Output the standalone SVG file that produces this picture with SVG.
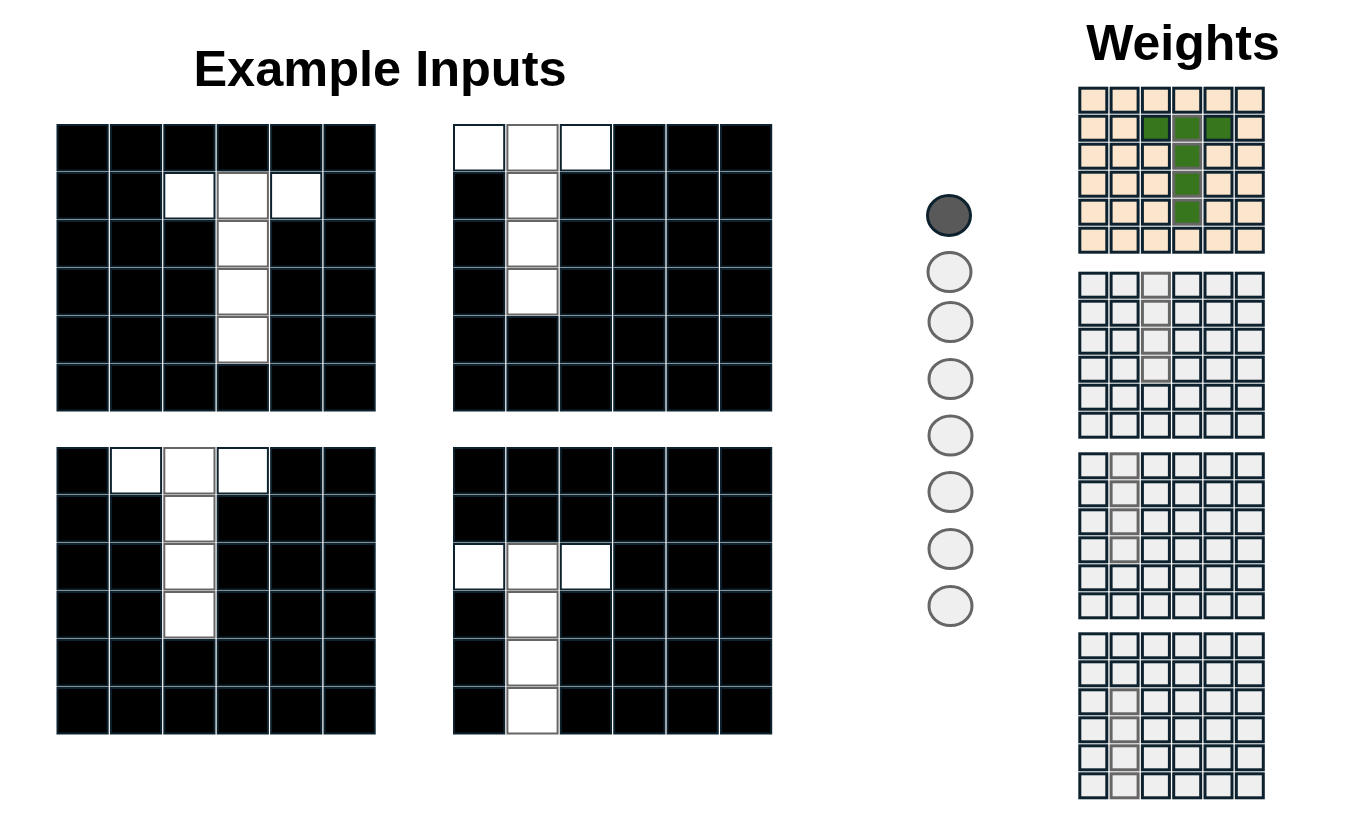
<svg xmlns="http://www.w3.org/2000/svg" width="1348" height="817" viewBox="0 0 1348 817">
<style>
.t{font-family:"Liberation Sans",Arial,sans-serif;font-weight:bold;fill:#000}
.i rect{stroke-width:2}
.b{fill:#000;stroke:#0d222e}
.w{fill:#fff;stroke:#0d222e}
.wg{fill:#fff;stroke:#666}
.k rect{stroke-width:3}
.p{fill:#fce5cd;stroke:#0d222e}
.g{fill:#38761d;stroke:#0d222e}
.gg{fill:#38761d;stroke:#666}
.l{fill:#efefef;stroke:#0d222e}
.lg{fill:#efefef;stroke:#666}
.c{fill:#efefef;stroke:#666;stroke-width:3}
.cd{fill:#595959;stroke:#0d222e;stroke-width:3}
</style>
<text class="t" x="380" y="86" font-size="50.5" text-anchor="middle">Example Inputs</text>
<text class="t" x="1183" y="60" font-size="50" text-anchor="middle">Weights</text>

<g id="input-1" class="i" transform="translate(56.5,124)">
<rect class="b" x="1" y="1" width="50.2" height="45.5"/><rect class="b" x="54.4" y="1" width="50.2" height="45.5"/><rect class="b" x="107.8" y="1" width="50.2" height="45.5"/><rect class="b" x="161.2" y="1" width="50.2" height="45.5"/><rect class="b" x="214.6" y="1" width="50.2" height="45.5"/><rect class="b" x="268" y="1" width="50.2" height="45.5"/>
<rect class="b" x="1" y="49" width="50.2" height="45.5"/><rect class="b" x="54.4" y="49" width="50.2" height="45.5"/><rect class="w" x="107.8" y="49" width="50.2" height="45.5"/><rect class="w" x="214.6" y="49" width="50.2" height="45.5"/><rect class="b" x="268" y="49" width="50.2" height="45.5"/>
<rect class="b" x="1" y="97" width="50.2" height="45.5"/><rect class="b" x="54.4" y="97" width="50.2" height="45.5"/><rect class="b" x="107.8" y="97" width="50.2" height="45.5"/><rect class="b" x="214.6" y="97" width="50.2" height="45.5"/><rect class="b" x="268" y="97" width="50.2" height="45.5"/>
<rect class="b" x="1" y="145" width="50.2" height="45.5"/><rect class="b" x="54.4" y="145" width="50.2" height="45.5"/><rect class="b" x="107.8" y="145" width="50.2" height="45.5"/><rect class="b" x="214.6" y="145" width="50.2" height="45.5"/><rect class="b" x="268" y="145" width="50.2" height="45.5"/>
<rect class="b" x="1" y="193" width="50.2" height="45.5"/><rect class="b" x="54.4" y="193" width="50.2" height="45.5"/><rect class="b" x="107.8" y="193" width="50.2" height="45.5"/><rect class="b" x="214.6" y="193" width="50.2" height="45.5"/><rect class="b" x="268" y="193" width="50.2" height="45.5"/>
<rect class="b" x="1" y="241" width="50.2" height="45.5"/><rect class="b" x="54.4" y="241" width="50.2" height="45.5"/><rect class="b" x="107.8" y="241" width="50.2" height="45.5"/><rect class="b" x="161.2" y="241" width="50.2" height="45.5"/><rect class="b" x="214.6" y="241" width="50.2" height="45.5"/><rect class="b" x="268" y="241" width="50.2" height="45.5"/>
<rect class="wg" x="161.2" y="49" width="50.2" height="45.5"/><rect class="wg" x="161.2" y="97" width="50.2" height="45.5"/><rect class="wg" x="161.2" y="145" width="50.2" height="45.5"/><rect class="wg" x="161.2" y="193" width="50.2" height="45.5"/>
</g>

<g id="input-2" class="i" transform="translate(453,124)">
<rect class="w" x="1" y="1" width="50.2" height="45.5"/><rect class="w" x="107.8" y="1" width="50.2" height="45.5"/><rect class="b" x="161.2" y="1" width="50.2" height="45.5"/><rect class="b" x="214.6" y="1" width="50.2" height="45.5"/><rect class="b" x="268" y="1" width="50.2" height="45.5"/>
<rect class="b" x="1" y="49" width="50.2" height="45.5"/><rect class="b" x="107.8" y="49" width="50.2" height="45.5"/><rect class="b" x="161.2" y="49" width="50.2" height="45.5"/><rect class="b" x="214.6" y="49" width="50.2" height="45.5"/><rect class="b" x="268" y="49" width="50.2" height="45.5"/>
<rect class="b" x="1" y="97" width="50.2" height="45.5"/><rect class="b" x="107.8" y="97" width="50.2" height="45.5"/><rect class="b" x="161.2" y="97" width="50.2" height="45.5"/><rect class="b" x="214.6" y="97" width="50.2" height="45.5"/><rect class="b" x="268" y="97" width="50.2" height="45.5"/>
<rect class="b" x="1" y="145" width="50.2" height="45.5"/><rect class="b" x="107.8" y="145" width="50.2" height="45.5"/><rect class="b" x="161.2" y="145" width="50.2" height="45.5"/><rect class="b" x="214.6" y="145" width="50.2" height="45.5"/><rect class="b" x="268" y="145" width="50.2" height="45.5"/>
<rect class="b" x="1" y="193" width="50.2" height="45.5"/><rect class="b" x="54.4" y="193" width="50.2" height="45.5"/><rect class="b" x="107.8" y="193" width="50.2" height="45.5"/><rect class="b" x="161.2" y="193" width="50.2" height="45.5"/><rect class="b" x="214.6" y="193" width="50.2" height="45.5"/><rect class="b" x="268" y="193" width="50.2" height="45.5"/>
<rect class="b" x="1" y="241" width="50.2" height="45.5"/><rect class="b" x="54.4" y="241" width="50.2" height="45.5"/><rect class="b" x="107.8" y="241" width="50.2" height="45.5"/><rect class="b" x="161.2" y="241" width="50.2" height="45.5"/><rect class="b" x="214.6" y="241" width="50.2" height="45.5"/><rect class="b" x="268" y="241" width="50.2" height="45.5"/>
<rect class="wg" x="54.4" y="1" width="50.2" height="45.5"/><rect class="wg" x="54.4" y="49" width="50.2" height="45.5"/><rect class="wg" x="54.4" y="97" width="50.2" height="45.5"/><rect class="wg" x="54.4" y="145" width="50.2" height="45.5"/>
</g>

<g id="input-3" class="i" transform="translate(56.5,447)">
<rect class="b" x="1" y="1" width="50.2" height="45.5"/><rect class="w" x="54.4" y="1" width="50.2" height="45.5"/><rect class="w" x="161.2" y="1" width="50.2" height="45.5"/><rect class="b" x="214.6" y="1" width="50.2" height="45.5"/><rect class="b" x="268" y="1" width="50.2" height="45.5"/>
<rect class="b" x="1" y="49" width="50.2" height="45.5"/><rect class="b" x="54.4" y="49" width="50.2" height="45.5"/><rect class="b" x="161.2" y="49" width="50.2" height="45.5"/><rect class="b" x="214.6" y="49" width="50.2" height="45.5"/><rect class="b" x="268" y="49" width="50.2" height="45.5"/>
<rect class="b" x="1" y="97" width="50.2" height="45.5"/><rect class="b" x="54.4" y="97" width="50.2" height="45.5"/><rect class="b" x="161.2" y="97" width="50.2" height="45.5"/><rect class="b" x="214.6" y="97" width="50.2" height="45.5"/><rect class="b" x="268" y="97" width="50.2" height="45.5"/>
<rect class="b" x="1" y="145" width="50.2" height="45.5"/><rect class="b" x="54.4" y="145" width="50.2" height="45.5"/><rect class="b" x="161.2" y="145" width="50.2" height="45.5"/><rect class="b" x="214.6" y="145" width="50.2" height="45.5"/><rect class="b" x="268" y="145" width="50.2" height="45.5"/>
<rect class="b" x="1" y="193" width="50.2" height="45.5"/><rect class="b" x="54.4" y="193" width="50.2" height="45.5"/><rect class="b" x="107.8" y="193" width="50.2" height="45.5"/><rect class="b" x="161.2" y="193" width="50.2" height="45.5"/><rect class="b" x="214.6" y="193" width="50.2" height="45.5"/><rect class="b" x="268" y="193" width="50.2" height="45.5"/>
<rect class="b" x="1" y="241" width="50.2" height="45.5"/><rect class="b" x="54.4" y="241" width="50.2" height="45.5"/><rect class="b" x="107.8" y="241" width="50.2" height="45.5"/><rect class="b" x="161.2" y="241" width="50.2" height="45.5"/><rect class="b" x="214.6" y="241" width="50.2" height="45.5"/><rect class="b" x="268" y="241" width="50.2" height="45.5"/>
<rect class="wg" x="107.8" y="1" width="50.2" height="45.5"/><rect class="wg" x="107.8" y="49" width="50.2" height="45.5"/><rect class="wg" x="107.8" y="97" width="50.2" height="45.5"/><rect class="wg" x="107.8" y="145" width="50.2" height="45.5"/>
</g>

<g id="input-4" class="i" transform="translate(453,447)">
<rect class="b" x="1" y="1" width="50.2" height="45.5"/><rect class="b" x="54.4" y="1" width="50.2" height="45.5"/><rect class="b" x="107.8" y="1" width="50.2" height="45.5"/><rect class="b" x="161.2" y="1" width="50.2" height="45.5"/><rect class="b" x="214.6" y="1" width="50.2" height="45.5"/><rect class="b" x="268" y="1" width="50.2" height="45.5"/>
<rect class="b" x="1" y="49" width="50.2" height="45.5"/><rect class="b" x="54.4" y="49" width="50.2" height="45.5"/><rect class="b" x="107.8" y="49" width="50.2" height="45.5"/><rect class="b" x="161.2" y="49" width="50.2" height="45.5"/><rect class="b" x="214.6" y="49" width="50.2" height="45.5"/><rect class="b" x="268" y="49" width="50.2" height="45.5"/>
<rect class="w" x="1" y="97" width="50.2" height="45.5"/><rect class="w" x="107.8" y="97" width="50.2" height="45.5"/><rect class="b" x="161.2" y="97" width="50.2" height="45.5"/><rect class="b" x="214.6" y="97" width="50.2" height="45.5"/><rect class="b" x="268" y="97" width="50.2" height="45.5"/>
<rect class="b" x="1" y="145" width="50.2" height="45.5"/><rect class="b" x="107.8" y="145" width="50.2" height="45.5"/><rect class="b" x="161.2" y="145" width="50.2" height="45.5"/><rect class="b" x="214.6" y="145" width="50.2" height="45.5"/><rect class="b" x="268" y="145" width="50.2" height="45.5"/>
<rect class="b" x="1" y="193" width="50.2" height="45.5"/><rect class="b" x="107.8" y="193" width="50.2" height="45.5"/><rect class="b" x="161.2" y="193" width="50.2" height="45.5"/><rect class="b" x="214.6" y="193" width="50.2" height="45.5"/><rect class="b" x="268" y="193" width="50.2" height="45.5"/>
<rect class="b" x="1" y="241" width="50.2" height="45.5"/><rect class="b" x="107.8" y="241" width="50.2" height="45.5"/><rect class="b" x="161.2" y="241" width="50.2" height="45.5"/><rect class="b" x="214.6" y="241" width="50.2" height="45.5"/><rect class="b" x="268" y="241" width="50.2" height="45.5"/>
<rect class="wg" x="54.4" y="97" width="50.2" height="45.5"/><rect class="wg" x="54.4" y="145" width="50.2" height="45.5"/><rect class="wg" x="54.4" y="193" width="50.2" height="45.5"/><rect class="wg" x="54.4" y="241" width="50.2" height="45.5"/>
</g>

<g id="units">
<g id="unit-1"><ellipse class="cd" cx="949" cy="215.5" rx="21.5" ry="20"/></g>
<g id="unit-2"><ellipse class="c" cx="949.5" cy="272" rx="21.5" ry="19.5"/></g>
<g id="unit-3"><ellipse class="c" cx="950.5" cy="322" rx="21.5" ry="19.5"/></g>
<g id="unit-4"><ellipse class="c" cx="950.5" cy="379" rx="21.5" ry="19.5"/></g>
<g id="unit-5"><ellipse class="c" cx="950.5" cy="435.5" rx="21.5" ry="19.5"/></g>
<g id="unit-6"><ellipse class="c" cx="950.5" cy="492" rx="21.5" ry="19.5"/></g>
<g id="unit-7"><ellipse class="c" cx="950.5" cy="549" rx="21.5" ry="19.5"/></g>
<g id="unit-8"><ellipse class="c" cx="950.5" cy="606" rx="21.5" ry="19.5"/></g>
</g>

<g id="weights-1" class="k" transform="translate(1078.3,86.7)">
<rect class="p" x="1.5" y="1.5" width="27" height="24"/><rect class="p" x="32.8" y="1.5" width="27" height="24"/><rect class="p" x="64.1" y="1.5" width="27" height="24"/><rect class="p" x="95.4" y="1.5" width="27" height="24"/><rect class="p" x="126.7" y="1.5" width="27" height="24"/><rect class="p" x="158" y="1.5" width="27" height="24"/>
<rect class="p" x="1.5" y="29.5" width="27" height="24"/><rect class="p" x="32.8" y="29.5" width="27" height="24"/><rect class="g" x="64.1" y="29.5" width="27" height="24"/><rect class="g" x="126.7" y="29.5" width="27" height="24"/><rect class="p" x="158" y="29.5" width="27" height="24"/>
<rect class="p" x="1.5" y="57.5" width="27" height="24"/><rect class="p" x="32.8" y="57.5" width="27" height="24"/><rect class="p" x="64.1" y="57.5" width="27" height="24"/><rect class="p" x="126.7" y="57.5" width="27" height="24"/><rect class="p" x="158" y="57.5" width="27" height="24"/>
<rect class="p" x="1.5" y="85.5" width="27" height="24"/><rect class="p" x="32.8" y="85.5" width="27" height="24"/><rect class="p" x="64.1" y="85.5" width="27" height="24"/><rect class="p" x="126.7" y="85.5" width="27" height="24"/><rect class="p" x="158" y="85.5" width="27" height="24"/>
<rect class="p" x="1.5" y="113.5" width="27" height="24"/><rect class="p" x="32.8" y="113.5" width="27" height="24"/><rect class="p" x="64.1" y="113.5" width="27" height="24"/><rect class="p" x="126.7" y="113.5" width="27" height="24"/><rect class="p" x="158" y="113.5" width="27" height="24"/>
<rect class="p" x="1.5" y="141.5" width="27" height="24"/><rect class="p" x="32.8" y="141.5" width="27" height="24"/><rect class="p" x="64.1" y="141.5" width="27" height="24"/><rect class="p" x="95.4" y="141.5" width="27" height="24"/><rect class="p" x="126.7" y="141.5" width="27" height="24"/><rect class="p" x="158" y="141.5" width="27" height="24"/>
<rect class="gg" x="95.4" y="29.5" width="27" height="24"/><rect class="gg" x="95.4" y="57.5" width="27" height="24"/><rect class="gg" x="95.4" y="85.5" width="27" height="24"/><rect class="gg" x="95.4" y="113.5" width="27" height="24"/>
</g>

<g id="weights-2" class="k" transform="translate(1078.3,271.7)">
<rect class="l" x="1.5" y="1.5" width="27" height="24"/><rect class="l" x="32.8" y="1.5" width="27" height="24"/><rect class="l" x="95.4" y="1.5" width="27" height="24"/><rect class="l" x="126.7" y="1.5" width="27" height="24"/><rect class="l" x="158" y="1.5" width="27" height="24"/>
<rect class="l" x="1.5" y="29.5" width="27" height="24"/><rect class="l" x="32.8" y="29.5" width="27" height="24"/><rect class="l" x="95.4" y="29.5" width="27" height="24"/><rect class="l" x="126.7" y="29.5" width="27" height="24"/><rect class="l" x="158" y="29.5" width="27" height="24"/>
<rect class="l" x="1.5" y="57.5" width="27" height="24"/><rect class="l" x="32.8" y="57.5" width="27" height="24"/><rect class="l" x="95.4" y="57.5" width="27" height="24"/><rect class="l" x="126.7" y="57.5" width="27" height="24"/><rect class="l" x="158" y="57.5" width="27" height="24"/>
<rect class="l" x="1.5" y="85.5" width="27" height="24"/><rect class="l" x="32.8" y="85.5" width="27" height="24"/><rect class="l" x="95.4" y="85.5" width="27" height="24"/><rect class="l" x="126.7" y="85.5" width="27" height="24"/><rect class="l" x="158" y="85.5" width="27" height="24"/>
<rect class="l" x="1.5" y="113.5" width="27" height="24"/><rect class="l" x="32.8" y="113.5" width="27" height="24"/><rect class="l" x="64.1" y="113.5" width="27" height="24"/><rect class="l" x="95.4" y="113.5" width="27" height="24"/><rect class="l" x="126.7" y="113.5" width="27" height="24"/><rect class="l" x="158" y="113.5" width="27" height="24"/>
<rect class="l" x="1.5" y="141.5" width="27" height="24"/><rect class="l" x="32.8" y="141.5" width="27" height="24"/><rect class="l" x="64.1" y="141.5" width="27" height="24"/><rect class="l" x="95.4" y="141.5" width="27" height="24"/><rect class="l" x="126.7" y="141.5" width="27" height="24"/><rect class="l" x="158" y="141.5" width="27" height="24"/>
<rect class="lg" x="64.1" y="1.5" width="27" height="24"/><rect class="lg" x="64.1" y="29.5" width="27" height="24"/><rect class="lg" x="64.1" y="57.5" width="27" height="24"/><rect class="lg" x="64.1" y="85.5" width="27" height="24"/>
</g>

<g id="weights-3" class="k" transform="translate(1078.3,452.3)">
<rect class="l" x="1.5" y="1.5" width="27" height="24"/><rect class="l" x="64.1" y="1.5" width="27" height="24"/><rect class="l" x="95.4" y="1.5" width="27" height="24"/><rect class="l" x="126.7" y="1.5" width="27" height="24"/><rect class="l" x="158" y="1.5" width="27" height="24"/>
<rect class="l" x="1.5" y="29.5" width="27" height="24"/><rect class="l" x="64.1" y="29.5" width="27" height="24"/><rect class="l" x="95.4" y="29.5" width="27" height="24"/><rect class="l" x="126.7" y="29.5" width="27" height="24"/><rect class="l" x="158" y="29.5" width="27" height="24"/>
<rect class="l" x="1.5" y="57.5" width="27" height="24"/><rect class="l" x="64.1" y="57.5" width="27" height="24"/><rect class="l" x="95.4" y="57.5" width="27" height="24"/><rect class="l" x="126.7" y="57.5" width="27" height="24"/><rect class="l" x="158" y="57.5" width="27" height="24"/>
<rect class="l" x="1.5" y="85.5" width="27" height="24"/><rect class="l" x="64.1" y="85.5" width="27" height="24"/><rect class="l" x="95.4" y="85.5" width="27" height="24"/><rect class="l" x="126.7" y="85.5" width="27" height="24"/><rect class="l" x="158" y="85.5" width="27" height="24"/>
<rect class="l" x="1.5" y="113.5" width="27" height="24"/><rect class="l" x="32.8" y="113.5" width="27" height="24"/><rect class="l" x="64.1" y="113.5" width="27" height="24"/><rect class="l" x="95.4" y="113.5" width="27" height="24"/><rect class="l" x="126.7" y="113.5" width="27" height="24"/><rect class="l" x="158" y="113.5" width="27" height="24"/>
<rect class="l" x="1.5" y="141.5" width="27" height="24"/><rect class="l" x="32.8" y="141.5" width="27" height="24"/><rect class="l" x="64.1" y="141.5" width="27" height="24"/><rect class="l" x="95.4" y="141.5" width="27" height="24"/><rect class="l" x="126.7" y="141.5" width="27" height="24"/><rect class="l" x="158" y="141.5" width="27" height="24"/>
<rect class="lg" x="32.8" y="1.5" width="27" height="24"/><rect class="lg" x="32.8" y="29.5" width="27" height="24"/><rect class="lg" x="32.8" y="57.5" width="27" height="24"/><rect class="lg" x="32.8" y="85.5" width="27" height="24"/>
</g>

<g id="weights-4" class="k" transform="translate(1078.3,632.3)">
<rect class="l" x="1.5" y="1.5" width="27" height="24"/><rect class="l" x="32.8" y="1.5" width="27" height="24"/><rect class="l" x="64.1" y="1.5" width="27" height="24"/><rect class="l" x="95.4" y="1.5" width="27" height="24"/><rect class="l" x="126.7" y="1.5" width="27" height="24"/><rect class="l" x="158" y="1.5" width="27" height="24"/>
<rect class="l" x="1.5" y="29.5" width="27" height="24"/><rect class="l" x="32.8" y="29.5" width="27" height="24"/><rect class="l" x="64.1" y="29.5" width="27" height="24"/><rect class="l" x="95.4" y="29.5" width="27" height="24"/><rect class="l" x="126.7" y="29.5" width="27" height="24"/><rect class="l" x="158" y="29.5" width="27" height="24"/>
<rect class="l" x="1.5" y="57.5" width="27" height="24"/><rect class="l" x="64.1" y="57.5" width="27" height="24"/><rect class="l" x="95.4" y="57.5" width="27" height="24"/><rect class="l" x="126.7" y="57.5" width="27" height="24"/><rect class="l" x="158" y="57.5" width="27" height="24"/>
<rect class="l" x="1.5" y="85.5" width="27" height="24"/><rect class="l" x="64.1" y="85.5" width="27" height="24"/><rect class="l" x="95.4" y="85.5" width="27" height="24"/><rect class="l" x="126.7" y="85.5" width="27" height="24"/><rect class="l" x="158" y="85.5" width="27" height="24"/>
<rect class="l" x="1.5" y="113.5" width="27" height="24"/><rect class="l" x="64.1" y="113.5" width="27" height="24"/><rect class="l" x="95.4" y="113.5" width="27" height="24"/><rect class="l" x="126.7" y="113.5" width="27" height="24"/><rect class="l" x="158" y="113.5" width="27" height="24"/>
<rect class="l" x="1.5" y="141.5" width="27" height="24"/><rect class="l" x="64.1" y="141.5" width="27" height="24"/><rect class="l" x="95.4" y="141.5" width="27" height="24"/><rect class="l" x="126.7" y="141.5" width="27" height="24"/><rect class="l" x="158" y="141.5" width="27" height="24"/>
<rect class="lg" x="32.8" y="57.5" width="27" height="24"/><rect class="lg" x="32.8" y="85.5" width="27" height="24"/><rect class="lg" x="32.8" y="113.5" width="27" height="24"/><rect class="lg" x="32.8" y="141.5" width="27" height="24"/>
</g>
</svg>
